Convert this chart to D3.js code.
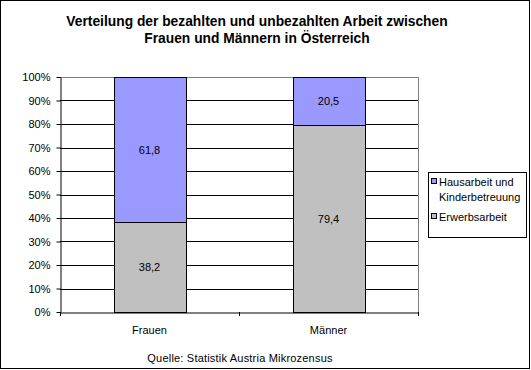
<!DOCTYPE html>
<html>
<head>
<meta charset="utf-8">
<script src="https://cdn.jsdelivr.net/npm/d3@7"></script>
<style>
  body { margin: 0; background: #fff; }
  text { font-family: "Liberation Sans", Arial, sans-serif; }
</style>
</head>
<body>
<svg id="chart" width="531" height="370"></svg>
<script>
const categories = ["Frauen", "Männer"];
const seriesNames = ["Erwerbsarbeit", "Hausarbeit und Kinderbetreuung"];
const erwerbsarbeit = [38.2, 79.4];
const hausarbeit = [61.8, 20.5];
const yTicks = [0, 0.1, 0.2, 0.3, 0.4, 0.5, 0.6, 0.7, 0.8, 0.9, 1];

const svg = d3.select("#chart");
const plot = {left: 60, right: 418, top: 77, bottom: 312};

svg.append("rect")
    .attr("x", 0.5).attr("y", 0.5)
    .attr("width", 529).attr("height", 368)
    .attr("fill", "#fff").attr("stroke", "#000");

svg.append("text")
    .attr("x", 257).attr("y", 26)
    .attr("text-anchor", "middle")
    .attr("font-size", 13.8).attr("font-weight", "bold")
    .text("Verteilung der bezahlten und unbezahlten Arbeit zwischen");
svg.append("text")
    .attr("x", 257).attr("y", 43)
    .attr("text-anchor", "middle")
    .attr("font-size", 13.8).attr("font-weight", "bold")
    .text("Frauen und Männern in Österreich");

const x = d3.scaleBand().domain(categories).range([plot.left, plot.right]).paddingInner(0).paddingOuter(0);
const y = d3.scaleLinear().domain([0, 1]).range([plot.bottom, plot.top]);

const data = categories.map((c, i) => {
    const total = erwerbsarbeit[i] + hausarbeit[i];
    return {cat: c, e: erwerbsarbeit[i], h: hausarbeit[i], total};
});

// gridlines
svg.append("g")
    .selectAll("line")
    .data(yTicks.slice(1))
    .join("line")
    .attr("x1", plot.left).attr("x2", plot.right)
    .attr("y1", d => Math.round(y(d)) + 0.5).attr("y2", d => Math.round(y(d)) + 0.5)
    .attr("stroke", d => d === 1 ? "#808080" : "#000");

// right border of plot area
svg.append("line")
    .attr("x1", plot.right + 0.5).attr("x2", plot.right + 0.5)
    .attr("y1", plot.top).attr("y2", plot.bottom)
    .attr("stroke", "#808080");

const barW = 72;
const color = d3.scaleOrdinal().domain(seriesNames).range(["#C0C0C0", "#9999FF"]);

const bars = svg.append("g");
data.forEach(d => {
    const cx = x(d.cat) + x.bandwidth() / 2;
    const x0 = Math.round(cx - barW / 2) + 0.5;
    const eTop = y(d.e / d.total);
    bars.append("rect")
        .attr("x", x0).attr("width", barW)
        .attr("y", Math.round(eTop) + 0.5)
        .attr("height", Math.round(y(0)) - Math.round(eTop))
        .attr("fill", color(seriesNames[0])).attr("stroke", "#000");
    bars.append("rect")
        .attr("x", x0).attr("width", barW)
        .attr("y", Math.round(y(1)) + 0.5)
        .attr("height", Math.round(eTop) - Math.round(y(1)))
        .attr("fill", color(seriesNames[1])).attr("stroke", "#000");
    bars.append("text")
        .attr("x", cx).attr("y", (y(0) + eTop) / 2 + 4)
        .attr("text-anchor", "middle").attr("font-size", 11)
        .text(String(d.e).replace(".", ","));
    bars.append("text")
        .attr("x", cx).attr("y", (y(1) + eTop) / 2 + 4)
        .attr("text-anchor", "middle").attr("font-size", 11)
        .text(String(d.h).replace(".", ","));
});

// y axis
const yAxis = svg.append("g")
    .attr("transform", `translate(${plot.left + 0.5},0)`)
    .call(d3.axisLeft(y).tickValues(yTicks).tickFormat(d3.format(".0%")).tickSize(4).tickSizeOuter(0));
yAxis.selectAll("text").attr("font-size", 11).attr("fill", "#000").attr("font-family", "Liberation Sans, Arial, sans-serif").attr("dx", "-3");
yAxis.select(".domain").attr("stroke", "#000");
yAxis.selectAll(".tick line").attr("stroke", "#000");

// x axis
const xAxis = svg.append("g")
    .attr("transform", `translate(0,${plot.bottom + 0.5})`)
    .call(d3.axisBottom(x).tickSize(0).tickSizeOuter(0));
xAxis.select(".domain").attr("stroke", "#000");
xAxis.selectAll("text").attr("font-size", 11).attr("fill", "#000").attr("font-family", "Liberation Sans, Arial, sans-serif").attr("dy", "1.2em").attr("y", 8);
svg.append("g")
    .selectAll("line")
    .data([plot.left, x("Männer"), plot.right])
    .join("line")
    .attr("x1", d => d + 0.5).attr("x2", d => d + 0.5)
    .attr("y1", plot.bottom).attr("y2", plot.bottom + 4)
    .attr("stroke", "#000");

svg.append("text")
    .attr("x", 240).attr("y", 362)
    .attr("text-anchor", "middle").attr("font-size", 11).attr("letter-spacing", 0.2)
    .text("Quelle: Statistik Austria Mikrozensus");

// legend
const legend = svg.append("g");
legend.append("rect")
    .attr("x", 428.5).attr("y", 172.5)
    .attr("width", 98).attr("height", 65)
    .attr("fill", "#fff").attr("stroke", "#000");
const items = [
    {name: seriesNames[1], lines: ["Hausarbeit und", "Kinderbetreuung"], y: 178},
    {name: seriesNames[0], lines: ["Erwerbsarbeit"], y: 213}
];
items.forEach(it => {
    legend.append("rect")
        .attr("x", 431.5).attr("y", it.y + 0.5)
        .attr("width", 5).attr("height", 5)
        .attr("fill", color(it.name)).attr("stroke", "#000");
    it.lines.forEach((l, j) => {
        legend.append("text")
            .attr("x", 439).attr("y", it.y + 8 + j * 15)
            .attr("font-size", 11)
            .text(l);
    });
});
</script>
</body>
</html>
